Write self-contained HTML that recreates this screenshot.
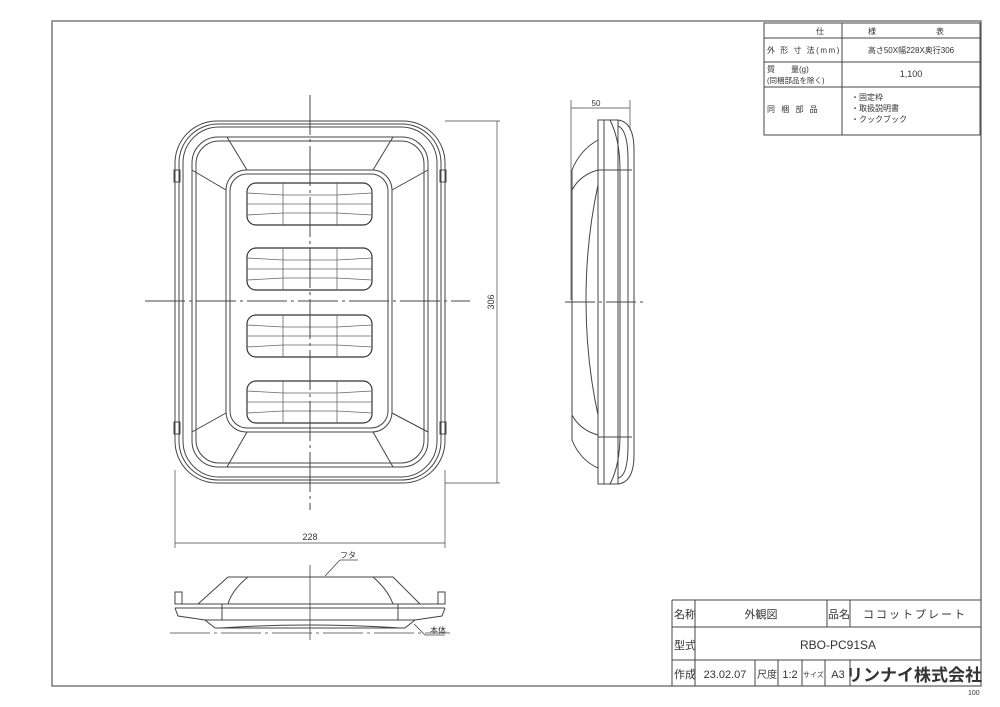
<!DOCTYPE html>
<html><head><meta charset="utf-8"><style>
html,body{margin:0;padding:0;background:#fff;width:1000px;height:707px;overflow:hidden}
svg{display:block}
text{font-family:"Liberation Sans","Noto Sans CJK JP",sans-serif;fill:#333}
</style></head><body>
<svg width="1000" height="707" viewBox="0 0 1000 707" xmlns="http://www.w3.org/2000/svg">
<g fill="none" stroke="#444" stroke-width="1">
<rect x="52" y="21" width="929" height="665" stroke="#666" stroke-width="1.3"/>
<rect x="764" y="23" width="216" height="112"/>
<line x1="842" y1="23" x2="842" y2="135"/>
<line x1="764" y1="38" x2="980" y2="38"/>
<line x1="764" y1="62" x2="980" y2="62"/>
<line x1="764" y1="87" x2="980" y2="87"/>
<line x1="672" y1="600" x2="981" y2="600"/>
<line x1="672" y1="600" x2="672" y2="686"/>
<line x1="672" y1="627" x2="981" y2="627"/>
<line x1="672" y1="660" x2="981" y2="660"/>
<line x1="695" y1="600" x2="695" y2="686"/>
<line x1="827" y1="600" x2="827" y2="627"/>
<line x1="850" y1="600" x2="850" y2="627"/>
<line x1="755" y1="660" x2="755" y2="686"/>
<line x1="778" y1="660" x2="778" y2="686"/>
<line x1="802" y1="660" x2="802" y2="686"/>
<line x1="825" y1="660" x2="825" y2="686"/>
<line x1="850" y1="660" x2="850" y2="686"/>

<rect x="175" y="121" width="270" height="362" rx="42"/>
<rect x="179" y="124" width="262" height="356" rx="39"/>
<rect x="183" y="127" width="254" height="350" rx="36"/>
<rect x="192" y="137" width="236" height="330" rx="26"/>
<rect x="196" y="141" width="228" height="322" rx="23"/>
<rect x="226" y="170" width="166" height="262" rx="20"/>
<rect x="230" y="174" width="158" height="254" rx="17"/>
<line x1="227" y1="137" x2="247" y2="170"/>
<line x1="393" y1="137" x2="373" y2="170"/>
<line x1="192" y1="170" x2="226" y2="190"/>
<line x1="428" y1="170" x2="392" y2="190"/>
<line x1="227" y1="467" x2="247" y2="432"/>
<line x1="393" y1="467" x2="373" y2="432"/>
<line x1="192" y1="432" x2="226" y2="413"/>
<line x1="428" y1="432" x2="392" y2="413"/>
<rect x="174" y="170" width="6" height="12"/><rect x="440" y="170" width="6" height="12"/>
<rect x="174" y="422" width="6" height="12"/><rect x="440" y="422" width="6" height="12"/>
<g stroke="#333" stroke-width="1.2">
<rect x="247" y="183" width="125" height="42" rx="9"/>
<rect x="247" y="248" width="125" height="42" rx="9"/>
<rect x="247" y="315" width="125" height="42" rx="9"/>
<rect x="247" y="381" width="125" height="42" rx="9"/>
</g>
<g stroke="#666" stroke-width="0.8">
<path d="M247 193 L283 195 L337 195 L372 193 M247 204 L372 204 M247 215 L283 213 L337 213 L372 215 M283 183 V225 M337 183 V225"/>
<path d="M247 258 L283 260 L337 260 L372 258 M247 269 L372 269 M247 280 L283 278 L337 278 L372 280 M283 248 V290 M337 248 V290"/>
<path d="M247 325 L283 327 L337 327 L372 325 M247 336 L372 336 M247 347 L283 345 L337 345 L372 347 M283 315 V357 M337 315 V357"/>
<path d="M247 391 L283 393 L337 393 L372 391 M247 402 L372 402 M247 413 L283 411 L337 411 L372 413 M283 381 V423 M337 381 V423"/>
</g>
<line x1="310" y1="95" x2="310" y2="510" stroke-dasharray="40 4 3 4"/>
<line x1="145" y1="301" x2="470" y2="301" stroke-dasharray="40 4 3 4"/>
<line x1="445" y1="121" x2="500" y2="121" stroke-width="0.7"/>
<line x1="445" y1="483" x2="500" y2="483" stroke-width="0.7"/>
<line x1="497" y1="121" x2="497" y2="483" stroke-width="0.7"/>
<line x1="175" y1="470" x2="175" y2="548" stroke-width="0.7"/>
<line x1="445" y1="470" x2="445" y2="548" stroke-width="0.7"/>
<line x1="175" y1="543" x2="445" y2="543" stroke-width="0.7"/>

<line x1="571" y1="100" x2="571" y2="300" stroke-width="0.7"/>
<line x1="630" y1="100" x2="630" y2="130" stroke-width="0.7"/>
<line x1="571" y1="108" x2="630" y2="108" stroke-width="0.7"/>
<rect x="598" y="120" width="20" height="364"/>
<path d="M618 120 Q634 122 634 150 L634 455 Q634 482 618 484"/>
<path d="M618 126 Q628 130 628 160 L628 445 Q628 476 618 478"/>
<path d="M610 120 Q620 140 620 170 V435 Q620 465 610 484"/>
<line x1="604" y1="120" x2="604" y2="484"/>
<path d="M598 140 Q580 150 572 170 L572 440 Q580 460 598 468"/>
<path d="M598 170 Q580 175 572 190"/>
<path d="M598 435 Q580 430 572 415"/>
<path d="M598 185 Q586 240 586 300 Q586 360 598 415"/>
<line x1="598" y1="170" x2="632" y2="170"/>
<line x1="598" y1="437" x2="632" y2="437"/>
<line x1="565" y1="302" x2="645" y2="302" stroke-dasharray="30 4 3 4"/>

<path d="M228 577 L393 577 L420 604 L198 604 Z"/>
<path d="M248 577 Q232 590 228 604 M373 577 Q388 590 393 604"/>
<line x1="175" y1="604" x2="445" y2="604"/>
<line x1="175" y1="608" x2="445" y2="608"/>
<rect x="175" y="592" width="7" height="12"/><rect x="438" y="592" width="7" height="12"/>
<path d="M175 608 L178 616 L205 620 L215 628 L405 628 L415 620 L442 616 L445 608"/>
<path d="M205 620 L415 620"/>
<path d="M220 628 Q310 622 400 628"/>
<line x1="222" y1="604" x2="222" y2="620"/><line x1="398" y1="604" x2="398" y2="620"/>
<line x1="170" y1="633" x2="450" y2="633" stroke-dasharray="40 4 3 4" stroke-width="0.7"/>
<line x1="310" y1="565" x2="310" y2="640" stroke-width="0.8"/>
<path d="M325 576 L340 560 L358 560" stroke-width="0.8"/>
<path d="M414 624 L425 635 L445 635" stroke-width="0.8"/>
</g>
<g font-size="8">
<text x="816" y="34">仕</text><text x="868" y="34">様</text><text x="936" y="34">表</text>
<text x="767" y="53" letter-spacing="1.5">外 形 寸 法(mm)</text>
<text x="911" y="53" text-anchor="middle">高さ50X幅228X奥行306</text>
<text x="767" y="72">質　　量(g)</text>
<text x="767" y="83" font-size="7.5">(同梱部品を除く)</text>
<text x="911" y="77" text-anchor="middle" font-size="9">1,100</text>
<text x="767" y="112" letter-spacing="2">同 梱 部 品</text>
<text x="851" y="100">・固定枠</text><text x="851" y="111">・取扱説明書</text><text x="851" y="122">・クックブック</text>
<text x="596" y="106" text-anchor="middle">50</text>
<text x="310" y="540" text-anchor="middle" font-size="9">228</text>
<text transform="translate(494,302) rotate(-90)" text-anchor="middle" font-size="9">306</text>
<text x="340" y="558">フタ</text>
<text x="430" y="633">本体</text>
</g>
<g font-size="11">
<text x="674" y="618">名称</text>
<text x="761" y="618" text-anchor="middle">外観図</text>
<text x="828" y="618">品名</text>
<text x="915" y="618" text-anchor="middle" letter-spacing="2">ココットプレート</text>
<text x="674" y="649">型式</text>
<text x="838" y="649" text-anchor="middle" font-size="12">RBO-PC91SA</text>
<text x="674" y="678">作成</text>
<text x="725" y="678" text-anchor="middle">23.02.07</text>
<text x="757" y="678" font-size="10">尺度</text>
<text x="790" y="678" text-anchor="middle">1:2</text>
<text x="803" y="677" font-size="7">サイズ</text>
<text x="838" y="678" text-anchor="middle">A3</text>
<text x="914" y="681" text-anchor="middle" font-size="17" font-weight="bold">リンナイ株式会社</text>
<text x="968" y="695" font-size="7">100</text>
</g>
</svg>
</body></html>
